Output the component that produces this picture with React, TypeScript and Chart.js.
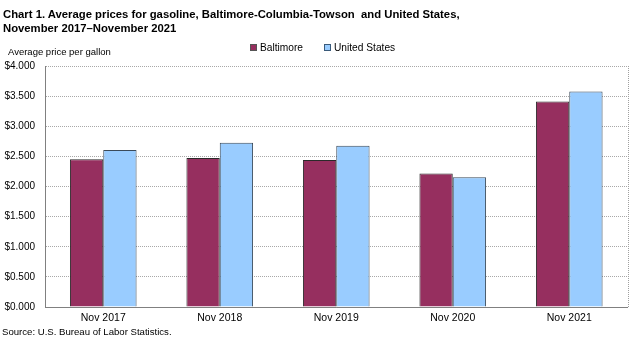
import React, { useEffect, useRef } from "react";
import { Chart, registerables } from "chart.js";

Chart.register(...registerables);

const categories = ["Nov 2017", "Nov 2018", "Nov 2019", "Nov 2020", "Nov 2021"];
const baltimore = [2.451, 2.474, 2.44, 2.215, 3.41];
const unitedStates = [2.607, 2.727, 2.678, 2.154, 3.575];
const seriesNames = ["Baltimore", "United States"];
const seriesColors = ["#962f5f", "#99ccff"];
const yTicksMin = 0;
const yTicksMax = 4;
const yStep = 0.5;

const FONT = "'Liberation Sans', Arial, Helvetica, sans-serif";

const rightBorder = {
  id: "rightBorder",
  beforeDatasetsDraw(chart: any) {
    const { ctx, chartArea } = chart;
    ctx.save();
    ctx.strokeStyle = "#a0a0a0";
    ctx.lineWidth = 1;
    ctx.setLineDash([1, 1]);
    ctx.beginPath();
    const x = Math.round(chartArea.right) + 0.5;
    ctx.moveTo(x, chartArea.top);
    ctx.lineTo(x, chartArea.bottom);
    ctx.stroke();
    ctx.restore();
  },
};

export default function App() {
  const ref = useRef<HTMLCanvasElement | null>(null);
  useEffect(() => {
    if (!ref.current) return;
    const chart = new Chart(ref.current, {
      type: "bar",
      data: {
        labels: categories,
        datasets: [
          {
            label: seriesNames[0],
            data: baltimore,
            backgroundColor: seriesColors[0],
            borderColor: "#2a2a2a",
            borderWidth: 1,
          },
          {
            label: seriesNames[1],
            data: unitedStates,
            backgroundColor: seriesColors[1],
            borderColor: "#3a4a5a",
            borderWidth: 1,
          },
        ],
      },
      options: {
        responsive: false,
        animation: false,
        layout: { padding: { left: 0, right: 7.5, top: 66, bottom: 0 } },
        datasets: { bar: { barPercentage: 1, categoryPercentage: 0.572 } } as any,
        plugins: {
          legend: { display: false },
          title: { display: false },
          tooltip: { enabled: false },
        },
        scales: {
          x: {
            grid: { display: false, drawTicks: false },
            border: { display: true, color: "#808080", width: 1 },
            ticks: {
              color: "#000",
              font: { family: FONT, size: 10.5 },
              padding: 5,
              maxRotation: 0,
            },
            afterFit(scale: any) {
              scale.height = 39;
            },
          },
          y: {
            min: yTicksMin,
            max: yTicksMax,
            grid: { color: "#a8a8a8", lineWidth: 1, drawTicks: false },
            border: { display: true, color: "#808080", width: 1, dash: [1, 1] },
            ticks: {
              stepSize: yStep,
              color: "#000",
              font: { family: FONT, size: 10 },
              padding: 10,
              callback: (v: any) => "$" + Number(v).toFixed(3),
            },
            afterFit(scale: any) {
              scale.width = 45;
            },
          },
        },
      },
      plugins: [rightBorder],
    });
    return () => chart.destroy();
  }, []);

  const sq = (fill: string, stroke: string) => ({
    display: "inline-block",
    width: 5,
    height: 5,
    background: fill,
    border: `1px solid ${stroke}`,
    marginRight: 3,
    verticalAlign: "middle",
  });

  return (
    <div
      style={{
        position: "fixed",
        left: 0,
        top: 0,
        width: 635,
        height: 346,
        background: "#fff",
        fontFamily: FONT,
        color: "#000",
      }}
    >
      <canvas ref={ref} width={635} height={346} style={{ position: "absolute", left: 0, top: 0 }} />
      <div
        style={{
          position: "absolute",
          left: 3,
          top: 7,
          fontSize: 11.3,
          fontWeight: "bold",
          lineHeight: "14px",
          whiteSpace: "pre",
        }}
      >
        {"Chart 1. Average prices for gasoline, Baltimore-Columbia-Towson  and United States,\nNovember 2017\u2013November 2021"}
      </div>
      <div style={{ position: "absolute", left: 8, top: 46, fontSize: 9.5, lineHeight: "12px" }}>
        Average price per gallon
      </div>
      <div style={{ position: "absolute", left: 250, top: 40, fontSize: 10.2, lineHeight: "13px", whiteSpace: "pre" }}>
        <span style={sq(seriesColors[0], "#555")} />
        <span style={{ verticalAlign: "middle" }}>{seriesNames[0]}</span>
      </div>
      <div style={{ position: "absolute", left: 324, top: 40, fontSize: 10.2, lineHeight: "13px", whiteSpace: "pre" }}>
        <span style={sq(seriesColors[1], "#3a5a7a")} />
        <span style={{ verticalAlign: "middle" }}>{seriesNames[1]}</span>
      </div>
      <div style={{ position: "absolute", left: 2, top: 326, fontSize: 9.6, lineHeight: "12px" }}>
        Source: U.S. Bureau of Labor Statistics.
      </div>
    </div>
  );
}
